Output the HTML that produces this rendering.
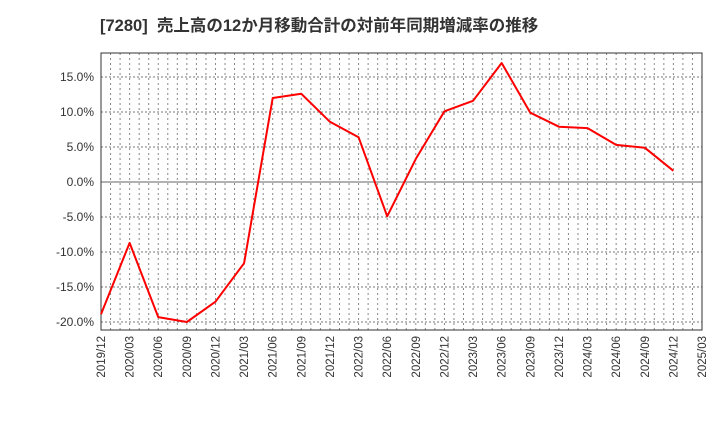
<!DOCTYPE html>
<html><head><meta charset="utf-8"><style>
body{margin:0;background:#fff;font-family:"Liberation Sans","Noto Sans CJK JP",sans-serif}
</style></head><body>
<svg id="c" width="720" height="440" xmlns="http://www.w3.org/2000/svg">
<text x="100" y="31" font-size="16.5" font-weight="bold" fill="#333" xml:space="preserve" font-family="Liberation Sans, Noto Sans CJK JP, sans-serif">[7280]  売上高の12か月移動合計の対前年同期増減率の推移</text>
</svg>
<script>
const categories=["2019/12","2020/03","2020/06","2020/09","2020/12","2021/03","2021/06","2021/09","2021/12","2022/03","2022/06","2022/09","2022/12","2023/03","2023/06","2023/09","2023/12","2024/03","2024/06","2024/09","2024/12"];
const values=[-18.9,-8.7,-19.3,-20.0,-17.1,-11.6,12.0,12.6,8.6,6.4,-4.9,3.3,10.1,11.6,17.0,9.9,7.9,7.7,5.3,4.9,1.6];
const xTickLabels=["2019/12","2020/03","2020/06","2020/09","2020/12","2021/03","2021/06","2021/09","2021/12","2022/03","2022/06","2022/09","2022/12","2023/03","2023/06","2023/09","2023/12","2024/03","2024/06","2024/09","2024/12","2025/03"];
const yTicks=[15,10,5,0,-5,-10,-15,-20];
const svg=document.getElementById('c');const NS="http://www.w3.org/2000/svg";
const L=101,R=702,T=53,B=330;
const x=i=>L+i*(R-L)/21;
const y=v=>182-v*7;
function mk(t,a,p){const e=document.createElementNS(NS,t);for(const k in a)e.setAttribute(k,a[k]);(p||svg).appendChild(e);return e;}
for(let m=1;m<63;m++){const xx=L+m*(R-L)/63;
const g=mk('line',{x1:xx,x2:xx,y1:T,y2:B,stroke:'#888','stroke-width':1,'stroke-dasharray':'2,3'});

}
yTicks.forEach(v=>{const yy=y(v);
const g=mk('line',{x1:L,x2:R,y1:yy,y2:yy,stroke:v===0?'#666':'#777','stroke-width':1,'stroke-dasharray':v===0?'':'2,2'});


const t=mk('text',{x:L-7,y:yy+4,'text-anchor':'end','font-size':12,fill:'#333'});t.textContent=v.toFixed(1)+'%';

});
xTickLabels.forEach((s,i)=>{const xx=x(i);
const t=mk('text',{x:0,y:0,transform:`translate(${xx+4},${B+6}) rotate(-90)`,'text-anchor':'end','font-size':11.5,fill:'#333'});t.textContent=s;

});
const f=mk('rect',{x:L,y:T,width:R-L,height:B-T,fill:'none',stroke:'#333','stroke-width':1});


const p=mk('polyline',{points:values.map((v,i)=>x(i)+','+y(v)).join(' '),fill:'none',stroke:'#f00','stroke-width':2,'stroke-linejoin':'round'});


</script>
</body></html>
